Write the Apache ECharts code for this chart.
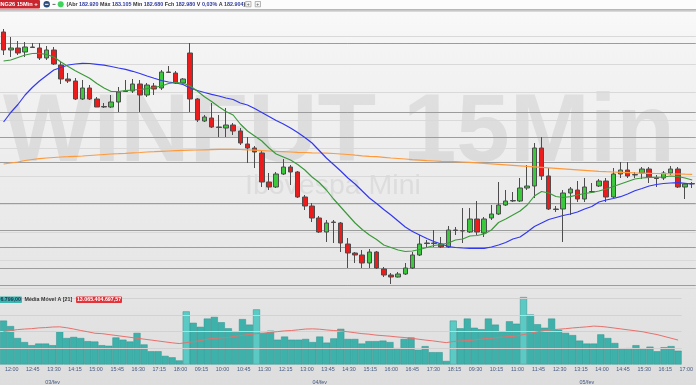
<!DOCTYPE html>
<html><head><meta charset="utf-8">
<script src="https://cdn.jsdelivr.net/npm/echarts@6/dist/echarts.min.js"></script>
<style>html,body{margin:0;padding:0;background:#fff}#c{width:696px;height:385px}</style>
</head><body><div id="c"></div>
<script>
// ---- data ----
const sessions = [['03/fev','12:00',26],['04/fev','09:00',38],['05/fev','09:00',33]];
const dateLabelTime = '13:45';
const open = [184840,184660,184680,184640,184690,184680,184580,184660,184510,184370,
184350,184170,184280,184170,184095,184090,184140,184250,184250,184320,
184210,184300,184280,184440,184430,184330,184630,184170,183950,183980,
183890,183880,183910,183850,183720,183680,183630,183340,183290,183420,
183490,183440,183190,183100,182980,182840,182940,182930,182720,182630,
182610,182530,182640,182470,182410,182390,182420,182480,182610,182730,
182725,182720,182690,182860,182855,182840,182970,182830,182980,183020,
183110,183150,183150,183280,183300,183680,183400,183070,183070,183230,
183260,183170,183240,183300,183350,183190,183420,183460,183410,183430,
183470,183380,183380,183430,183470,183290,183320];
const close = [184660,184680,184630,184690,184685,184580,184660,184520,184370,184350,
184170,184280,184170,184090,184090,184140,184240,184245,184320,184210,
184310,184270,184440,184435,184330,184370,184170,183960,183990,183890,
183885,183910,183850,183730,183680,183640,183340,183290,183420,183490,
183440,183190,183100,182980,182840,182930,182935,182730,182630,182610,
182530,182640,182480,182410,182390,182420,182480,182610,182720,182725,
182730,182690,182860,182855,182850,182970,182840,182970,183020,183110,
183150,183155,183280,183300,183680,183400,183070,183065,183230,183270,
183170,183290,183245,183350,183190,183420,183460,183400,183415,183470,
183390,183375,183430,183470,183290,183320,183325];
const low = [184610,184590,184610,184590,184680,184560,184560,184510,184320,184330,
184160,184160,184160,184090,184080,184080,184040,184240,184230,184040,
184190,184210,184260,184430,184320,184325,184040,183940,183940,183880,
183790,183790,183810,183710,183530,183480,183290,183260,183280,183410,
183310,183180,183060,182940,182830,182740,182730,182640,182480,182530,
182480,182480,182470,182390,182320,182385,182410,182470,182600,182680,
182690,182680,182680,182810,182730,182830,182810,182790,182960,183010,
183100,183140,183140,183260,183180,183360,183060,183040,182740,183010,
183140,183140,183230,183290,183140,183180,183380,183380,183380,183370,
183330,183290,183360,183410,183280,183170,183280];
const high = [184870,184790,184750,184740,184730,184730,184700,184690,184540,184430,
184380,184360,184310,184190,184130,184210,184290,184360,184370,184360,
184330,184330,184460,184500,184450,184380,184730,184180,184010,184130,
184010,184080,183930,183880,183790,183700,183660,183430,183440,183570,
183510,183450,183210,183130,183000,182960,182960,182940,182780,182640,
182660,182670,182650,182490,182430,182440,182530,182640,182810,182760,
182860,182790,182900,182890,183080,183080,183150,182990,183110,183340,
183260,183240,183380,183510,183730,183790,183480,183100,183260,183290,
183350,183380,183330,183370,183380,183480,183540,183540,183440,183490,
183490,183410,183450,183500,183490,183330,183340];
const maGreen = [184550,184560,184585,184610,184625,184627,184615,184590,184540,184495,
184453,184415,184377,184325,184280,184245,184245,184253,184260,184265,
184273,184285,184300,184325,184335,184330,184300,184250,184193,184145,
184093,184045,184010,183920,183850,183800,183750,183680,183620,183590,
183560,183515,183460,183390,183335,183260,183170,183090,183010,182930,
182865,182810,182765,182710,182685,182660,182645,182650,182665,182685,
182705,182715,182730,182760,182770,182800,182805,182820,182860,182935,
182970,183010,183050,183110,183200,183245,183230,183195,183185,183193,
183210,183225,183235,183250,183270,183295,183320,183345,183370,183380,
183387,183387,183390,183400,183395,183380,183360];
const maBlue = [183940,184035,184115,184210,184285,184350,184405,184460,184485,184510,
184520,184527,184525,184517,184508,184495,184480,184467,184447,184425,
184400,184377,184355,184340,184330,184315,184280,184255,184235,184217,
184200,184180,184165,184130,184110,184075,184035,183995,183955,183920,
183880,183835,183785,183730,183655,183580,183515,183450,183380,183320,
183250,183180,183125,183065,183010,182950,182890,182845,182810,182775,
182745,182720,182695,182685,182680,182677,182677,182677,182690,182710,
182735,182770,182790,182840,182895,182930,182965,182985,183005,183020,
183040,183070,183095,183140,183160,183175,183193,183220,183253,183275,
183300,183315,183325,183330,183333,183327,183320];
const maOrange = [183520,183530,183540,183555,183565,183573,183580,183585,183590,183593,
183597,183600,183605,183610,183615,183620,183623,183627,183632,183635,
183640,183643,183647,183650,183653,183656,183658,183660,183662,183664,
183666,183667,183667,183665,183662,183658,183654,183650,183645,183643,
183640,183637,183635,183632,183630,183628,183625,183620,183615,183608,
183602,183597,183593,183587,183580,183575,183570,183563,183558,183553,
183550,183547,183545,183543,183540,183537,183532,183527,183522,183517,
183512,183507,183502,183497,183492,183487,183482,183477,183472,183467,
183462,183457,183452,183447,183443,183440,183437,183434,183431,183429,
183427,183425,183423,183421,183420,183418,183417];
const levels = [184730,184040,183790,183540,183130,182860,182690,182480,182310];
const volume = [23.9,20.9,14.4,12.2,10.5,11.4,11.4,10.5,18.0,14.4,
15.0,14.4,12.7,12.5,10.5,10.2,14.7,13.5,12.5,17.2,
10.9,7.2,7.2,4.7,3.9,2.2,28.9,22.7,20.5,25.0,
25.9,23.0,19.7,17.7,24.7,21.7,30.0,17.2,18.4,13.5,
15.2,13.5,13.5,13.9,12.2,15.2,11.9,14.2,19.4,13.9,
13.9,11.4,12.7,12.7,13.0,12.2,8.9,13.9,14.7,8.0,
10.0,6.7,6.7,1.9,23.9,19.7,25.0,20.0,19.2,25.0,
21.7,18.0,23.5,22.2,36.7,27.2,21.9,20.0,25.0,18.9,
17.2,16.0,13.0,11.4,11.4,16.4,14.4,11.7,8.5,8.9,
10.5,8.5,9.7,7.2,9.4,10.0,7.5];
const volMA = [18.0,18.5,19.0,19.3,19.5,19.9,20.1,20.4,20.5,20.0,
19.3,18.5,17.8,17.0,16.8,16.3,15.8,15.3,14.8,14.3,
13.8,13.3,12.8,12.3,11.8,11.4,11.9,12.4,13.0,13.8,
14.2,14.5,14.7,15.4,15.9,16.3,16.8,17.0,17.5,17.9,
18.3,18.5,18.9,19.3,19.4,19.2,18.8,18.5,18.2,17.8,
17.3,16.8,16.5,16.0,15.7,15.4,15.0,14.7,14.3,13.8,
13.3,12.9,12.4,11.9,12.5,12.8,13.0,13.4,13.8,14.2,
14.5,14.9,15.2,15.5,16.3,17.0,17.8,18.5,18.9,19.2,
19.5,19.9,20.2,20.5,20.9,20.7,20.3,19.8,19.3,18.8,
18.3,17.8,17.0,16.3,15.3,14.3,13.3];
const volGrid = [9,18,27,36];
const highlightBars = [26,36,64,74];

// ---- build ----
const categories = [];
sessions.forEach(([d,s,n])=>{
  const [h,m] = s.split(':').map(Number);
  for(let k=0;k<n;k++){const t=h*60+m+15*k;
    categories.push(d+' '+String(Math.floor(t/60)).padStart(2,'0')+':'+String(t%60).padStart(2,'0'));}
});
const candles = open.map((o,i)=>[o,close[i],low[i],high[i]]);
const volData = volume.map((v,i)=>({value:v,itemStyle:{color: highlightBars.includes(i)?'#5ccac4':'#3fb1ab'}}));
const F = 'Liberation Sans';
const chart = echarts.init(document.getElementById('c'),null,{renderer:'canvas'});
const hidden = {axisLine:{show:false},axisTick:{show:false},axisLabel:{show:false}};
chart.setOption({
  animation:false,
  backgroundColor:{type:'linear',x:0,y:0,x2:0,y2:1,colorStops:[
    {offset:0,color:'#fbfbfb'},{offset:0.12,color:'#f4f4f4'},{offset:0.72,color:'#e6e6e6'},{offset:1,color:'#dddddd'}]},
  grid:[{left:-2.6,width:698.4,top:11,height:277},{left:-2.6,width:698.4,top:291,height:80}],
  xAxis:[
    Object.assign({type:'category',data:categories,gridIndex:0,splitLine:{show:false}},hidden),
    {type:'category',data:categories,gridIndex:1,axisLine:{show:false},axisTick:{show:false},splitLine:{show:false},
      axisLabel:{interval:2,formatter:v=>v.split(' ')[1],fontSize:5.4,fontFamily:F,color:'#43597f',align:'left',margin:2.5,padding:[0,0,0,1.5]}},
    {type:'category',data:categories,gridIndex:1,position:'bottom',offset:7.5,axisLine:{show:false},axisTick:{show:false},
      axisLabel:{interval:(i,v)=>v.split(' ')[1]===dateLabelTime,formatter:v=>v.split(' ')[0],fontSize:5.4,fontFamily:F,color:'#43597f'}}
  ],
  yAxis:[
    Object.assign({type:'value',gridIndex:0,min:182280,max:185050,interval:280,
      splitLine:{show:true,lineStyle:{color:'#d9d9d9',width:1}}},hidden),
    Object.assign({type:'value',gridIndex:1,min:0,max:40,splitLine:{show:false}},hidden)
  ],
  graphic:[
    {type:'text',z:0,style:{text:'WINFUT 15Min',x:3,y:135,font:'bold 96px "Liberation Sans"',fill:'rgba(120,120,120,0.15)',textVerticalAlign:'middle',verticalAlign:'middle'}},
    {type:'text',z:0,style:{text:'Ibovespa Mini',x:245,y:186,font:'28.5px "Liberation Sans"',fill:'rgba(120,120,120,0.13)',textVerticalAlign:'middle',verticalAlign:'middle'}},
    {type:'rect',z:10,shape:{x:0,y:0,width:696,height:9},style:{fill:'#fcfcfc'}},
    {type:'rect',z:10,shape:{x:0,y:9,width:696,height:1.8},style:{fill:'#b7b7b7'}},
    {type:'rect',z:11,shape:{x:-3,y:0,width:43,height:8.5,r:1},style:{fill:'#c9252e'}},
    {type:'text',z:12,style:{text:'ING26 15Min',x:-1,y:4.3,font:'bold 5.6px "Liberation Sans"',fill:'#ffffff',textVerticalAlign:'middle',verticalAlign:'middle'}},
    {type:'text',z:12,style:{text:'+',x:36,y:4.3,font:'bold 6px "Liberation Sans"',fill:'#ffffff',textAlign:'center',align:'center',textVerticalAlign:'middle',verticalAlign:'middle'}},
    {type:'circle',z:11,shape:{cx:46.7,cy:4.3,r:3.2},style:{fill:'#2b4d7e'}},
    {type:'rect',z:12,shape:{x:44.9,y:3.8,width:3.6,height:1},style:{fill:'#ffffff'}},
    {type:'rect',z:11,shape:{x:52.5,y:3.9,width:3,height:0.9},style:{fill:'#555'}},
    {type:'circle',z:11,shape:{cx:60.7,cy:4.3,r:3},style:{fill:'#3fd35c'}},
    {type:'text',z:12,style:{x:66.5,y:4.5,textVerticalAlign:'middle',verticalAlign:'middle',
      text:'{l|(Abr }{n|182.920}{l| Máx }{n|183.105}{l| Min }{n|182.680}{l| Fch }{n|182.980}{l| V }{n|0,03%}{l| A }{n|182.904}{l|)}',
      rich:{l:{font:'bold 5.4px "Liberation Sans"',fill:'#333333'},n:{font:'bold 5.4px "Liberation Sans"',fill:'#2d3a9c'}}}},
    {type:'rect',z:11,shape:{x:245.7,y:1.5,width:5.3,height:5.3},style:{fill:'#f4f4f4',stroke:'#9a9a9a',lineWidth:0.7}},
    {type:'rect',z:11,shape:{x:255.2,y:1.5,width:5.3,height:5.3},style:{fill:'#f4f4f4',stroke:'#9a9a9a',lineWidth:0.7}},
    {type:'text',z:12,style:{text:'+',x:248.3,y:4.2,font:'5px "Liberation Sans"',fill:'#555',textAlign:'center',align:'center',textVerticalAlign:'middle',verticalAlign:'middle'}},
    {type:'text',z:12,style:{text:'+',x:257.8,y:4.2,font:'5px "Liberation Sans"',fill:'#555',textAlign:'center',align:'center',textVerticalAlign:'middle',verticalAlign:'middle'}},
    {type:'rect',z:11,shape:{x:-2,y:296.5,width:24,height:6.5,r:1},style:{fill:'#3db5ae'}},
    {type:'text',z:12,style:{text:'6.799,00',x:21,y:299.8,font:'bold 5.3px "Liberation Sans"',fill:'#1d3550',textAlign:'right',align:'right',textVerticalAlign:'middle',verticalAlign:'middle'}},
    {type:'text',z:12,style:{text:'Média Móvel A [21]',x:24.5,y:299.8,font:'bold 5.3px "Liberation Sans"',fill:'#333',textVerticalAlign:'middle',verticalAlign:'middle'}},
    {type:'rect',z:11,shape:{x:76,y:296.5,width:46,height:6.5,r:1},style:{fill:'#e2343a'}},
    {type:'text',z:12,style:{text:'13.065.404.697,57',x:99,y:299.8,font:'bold 5.3px "Liberation Sans"',fill:'#ffffff',textAlign:'center',align:'center',textVerticalAlign:'middle',verticalAlign:'middle'}}
  ],
  series:[
    {type:'candlestick',xAxisIndex:0,yAxisIndex:0,data:candles,barWidth:5,z:5,
      itemStyle:{color:'#3cc83c',color0:'#ec1c1c',borderColor:'#4d4d4d',borderColor0:'#4d4d4d',borderWidth:1},
      markLine:{silent:true,symbol:'none',label:{show:false},lineStyle:{color:'#9c9c9c',width:1,type:'solid'},
        data:levels.map(v=>({yAxis:v}))}},
    {type:'line',xAxisIndex:0,yAxisIndex:0,data:maOrange,symbol:'none',z:6,lineStyle:{color:'#ff9a3c',width:1.2}},
    {type:'line',xAxisIndex:0,yAxisIndex:0,data:maBlue,symbol:'none',z:6,lineStyle:{color:'#3338ee',width:1.2}},
    {type:'line',xAxisIndex:0,yAxisIndex:0,data:maGreen,symbol:'none',z:6,lineStyle:{color:'#3c9a3c',width:1.2}},
    {type:'bar',xAxisIndex:1,yAxisIndex:1,data:volData,barCategoryGap:'0%',z:4,
      itemStyle:{borderColor:'#2f938e',borderWidth:0.5},
      markLine:{silent:true,symbol:'none',label:{show:false},lineStyle:{color:'#d2d2d2',width:1,type:'solid'},
        data:volGrid.map(v=>({yAxis:v}))}},
    {type:'line',xAxisIndex:1,yAxisIndex:1,data:volMA,symbol:'none',z:6,lineStyle:{color:'#e8706c',width:1}}
  ]
});
</script></body></html>
